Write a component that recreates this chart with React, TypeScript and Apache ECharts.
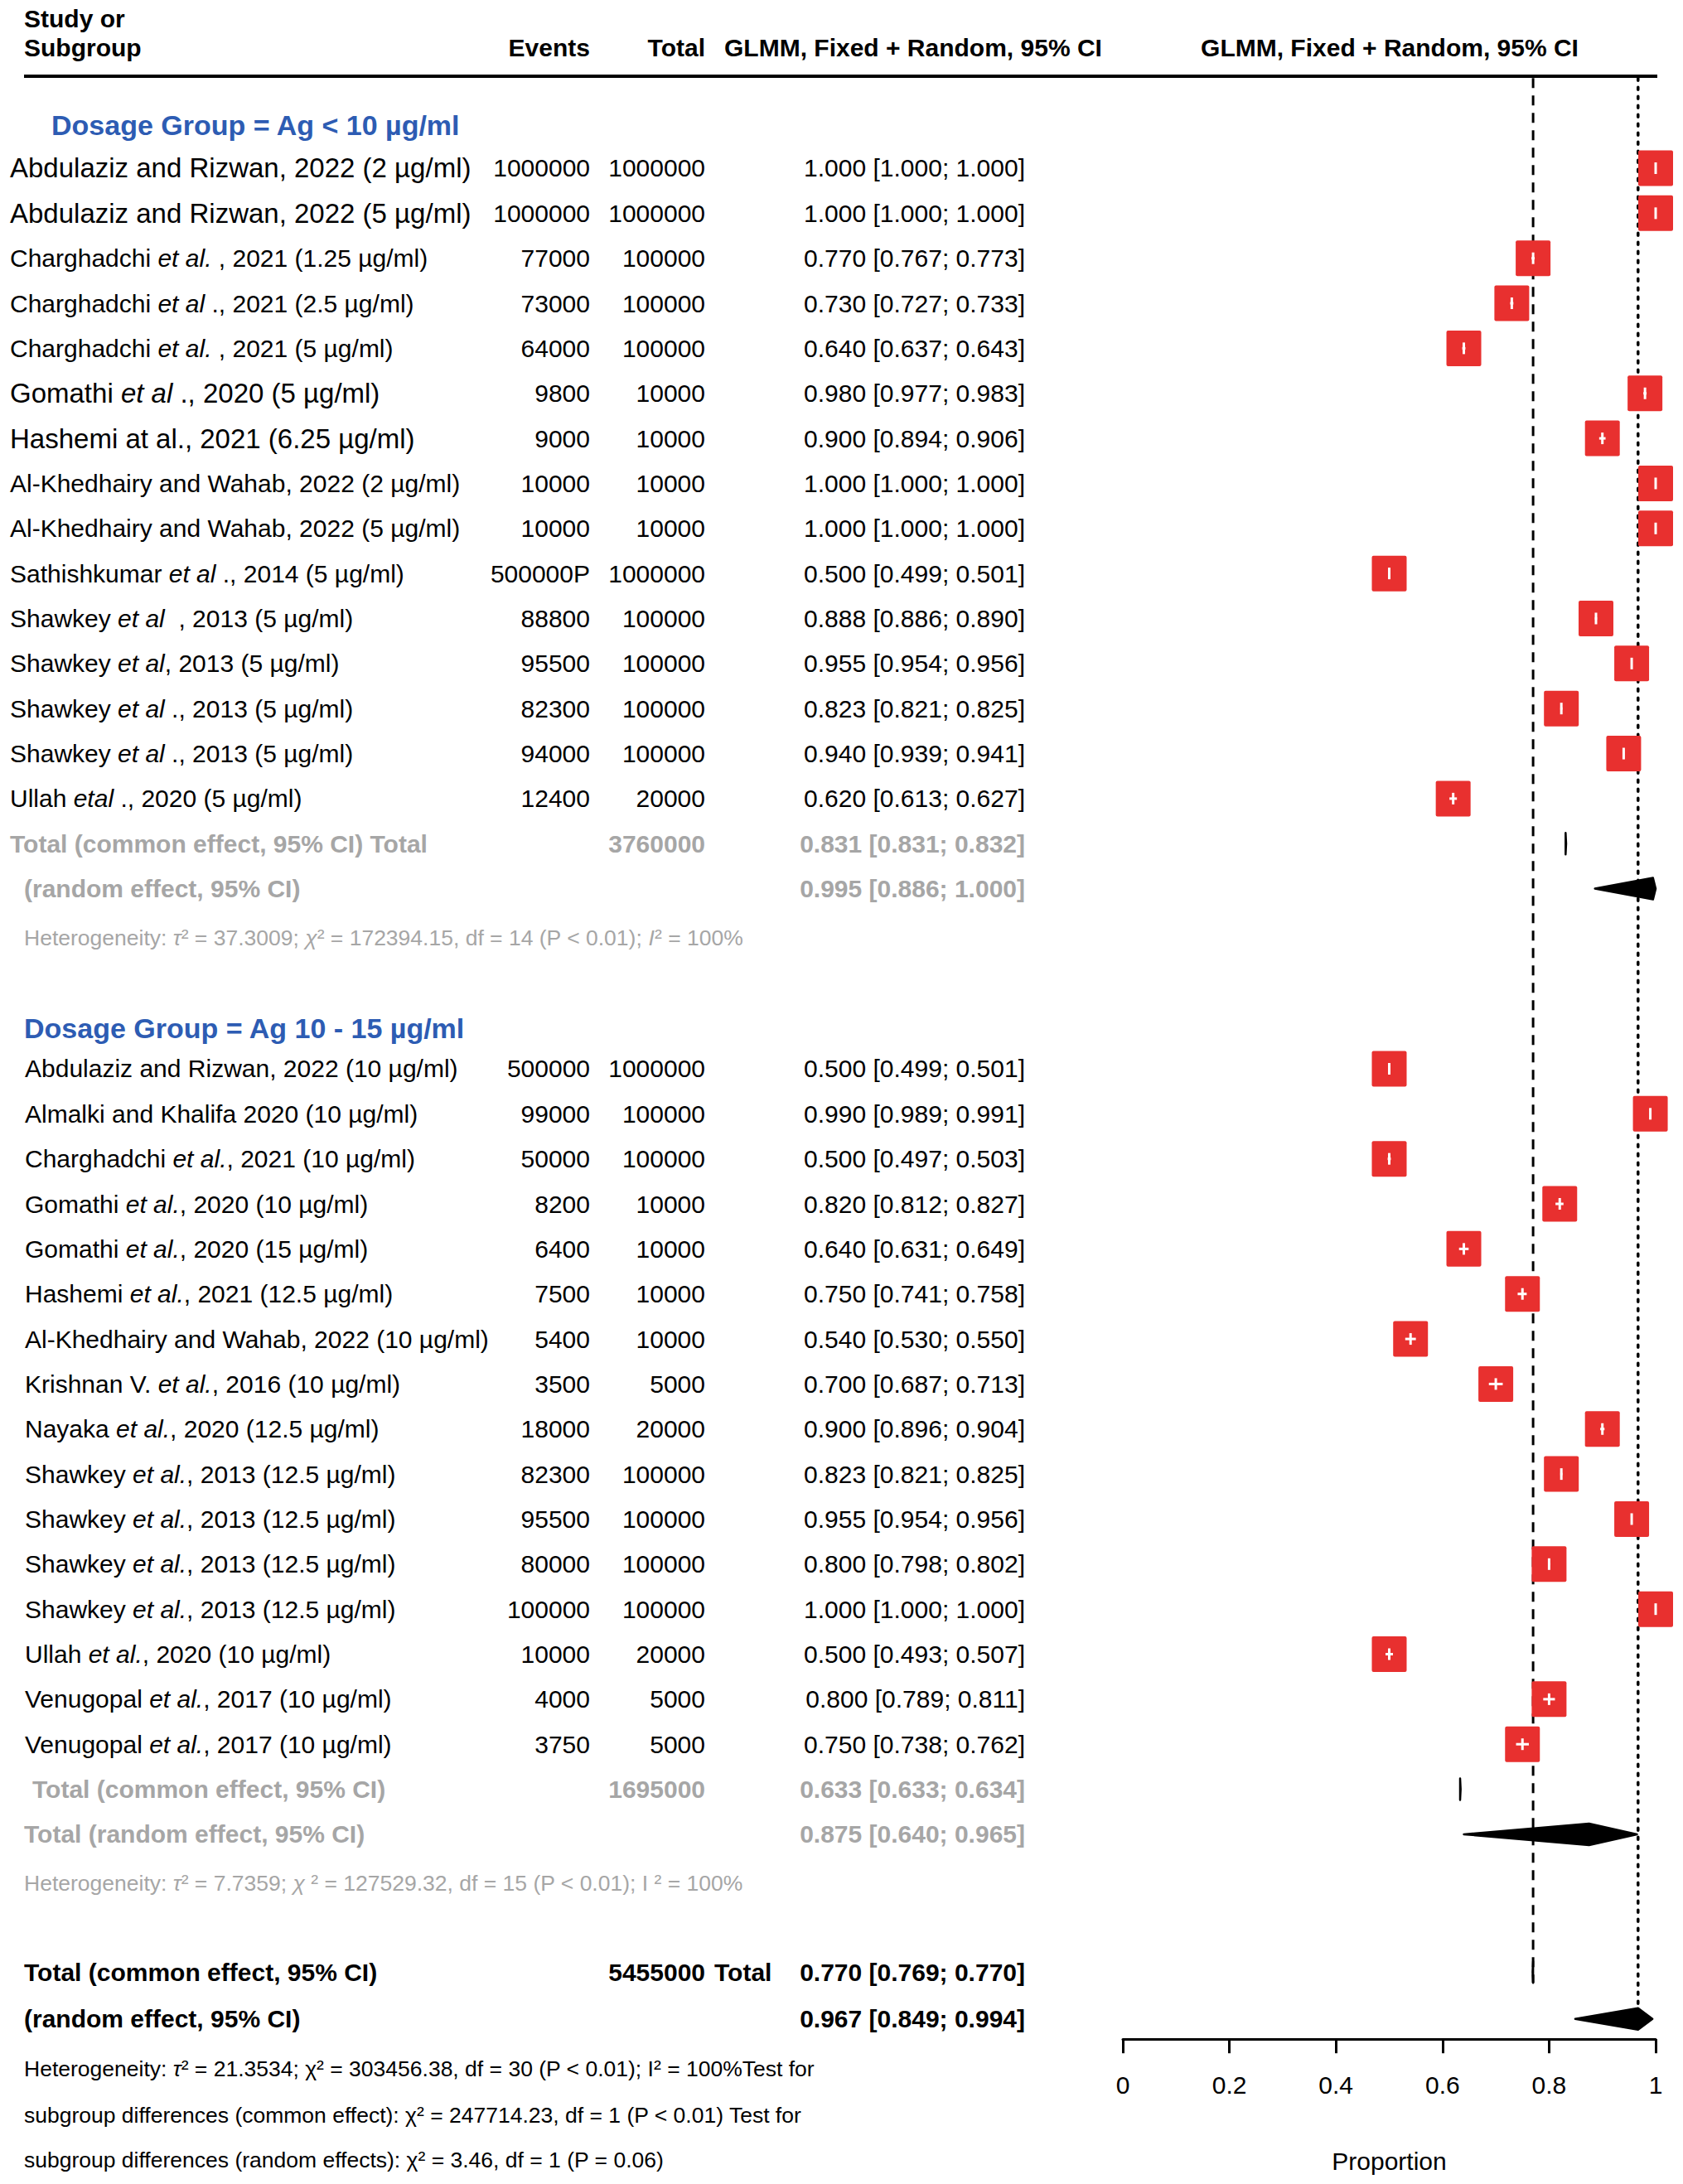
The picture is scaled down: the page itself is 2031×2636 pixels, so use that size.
import React, { useEffect, useRef } from "react";
import * as echarts from "echarts";

const W = 2031;
const H = 2636;
const FONT = "'Liberation Sans', Arial, Helvetica, sans-serif";
const RED = "#e8302f";
const GRAY = "#a6a6a6";
const BLUE = "#2d5cb3";

// ---------- Group 1: Ag < 10 µg/ml ----------
const G1_TITLE = "Dosage Group = Ag < 10 µg/ml";
const G1_LABELS = [
  "Abdulaziz and Rizwan, 2022 (2 µg/ml)",
  "Abdulaziz and Rizwan, 2022 (5 µg/ml)",
  "Charghadchi {i|et al.} , 2021 (1.25 µg/ml)",
  "Charghadchi {i|et al} ., 2021 (2.5 µg/ml)",
  "Charghadchi {i|et al.} , 2021 (5 µg/ml)",
  "Gomathi {i|et al} ., 2020 (5 µg/ml)",
  "Hashemi at al., 2021 (6.25 µg/ml)",
  "Al-Khedhairy and Wahab, 2022 (2 µg/ml)",
  "Al-Khedhairy and Wahab, 2022 (5 µg/ml)",
  "Sathishkumar {i|et al} ., 2014 (5 µg/ml)",
  "Shawkey {i|et al}  , 2013 (5 µg/ml)",
  "Shawkey {i|et al}, 2013 (5 µg/ml)",
  "Shawkey {i|et al} ., 2013 (5 µg/ml)",
  "Shawkey {i|et al} ., 2013 (5 µg/ml)",
  "Ullah {i|etal} ., 2020 (5 µg/ml)",
];
const G1_EVENTS = ["1000000", "1000000", "77000", "73000", "64000", "9800", "9000", "10000", "10000", "500000P", "88800", "95500", "82300", "94000", "12400"];
const G1_TOTALS = ["1000000", "1000000", "100000", "100000", "100000", "10000", "10000", "10000", "10000", "1000000", "100000", "100000", "100000", "100000", "20000"];
const G1_EST = [1.0, 1.0, 0.77, 0.73, 0.64, 0.98, 0.9, 1.0, 1.0, 0.5, 0.888, 0.955, 0.823, 0.94, 0.62];
const G1_LO = [1.0, 1.0, 0.767, 0.727, 0.637, 0.977, 0.894, 1.0, 1.0, 0.499, 0.886, 0.954, 0.821, 0.939, 0.613];
const G1_HI = [1.0, 1.0, 0.773, 0.733, 0.643, 0.983, 0.906, 1.0, 1.0, 0.501, 0.89, 0.956, 0.825, 0.941, 0.627];
const G1_COMMON = { n: "3760000", est: 0.831, lo: 0.831, hi: 0.832 };
const G1_RANDOM = { est: 0.995, lo: 0.886, hi: 1.0 };
const G1_HET = "Heterogeneity: {i|τ}² = 37.3009; {i|χ}² = 172394.15, df = 14 (P < 0.01); {i|I}² = 100%";

// ---------- Group 2: Ag 10 - 15 µg/ml ----------
const G2_TITLE = "Dosage Group = Ag 10 - 15 µg/ml";
const G2_LABELS = [
  "Abdulaziz and Rizwan, 2022 (10 µg/ml)",
  "Almalki and Khalifa 2020 (10 µg/ml)",
  "Charghadchi {i|et al.}, 2021 (10 µg/ml)",
  "Gomathi {i|et al.}, 2020 (10 µg/ml)",
  "Gomathi {i|et al.}, 2020 (15 µg/ml)",
  "Hashemi {i|et al.}, 2021 (12.5 µg/ml)",
  "Al-Khedhairy and Wahab, 2022 (10 µg/ml)",
  "Krishnan V. {i|et al.}, 2016 (10 µg/ml)",
  "Nayaka {i|et al.}, 2020 (12.5 µg/ml)",
  "Shawkey {i|et al.}, 2013 (12.5 µg/ml)",
  "Shawkey {i|et al.}, 2013 (12.5 µg/ml)",
  "Shawkey {i|et al.}, 2013 (12.5 µg/ml)",
  "Shawkey {i|et al.}, 2013 (12.5 µg/ml)",
  "Ullah {i|et al.}, 2020 (10 µg/ml)",
  "Venugopal {i|et al.}, 2017 (10 µg/ml)",
  "Venugopal {i|et al.}, 2017 (10 µg/ml)",
];
const G2_EVENTS = ["500000", "99000", "50000", "8200", "6400", "7500", "5400", "3500", "18000", "82300", "95500", "80000", "100000", "10000", "4000", "3750"];
const G2_TOTALS = ["1000000", "100000", "100000", "10000", "10000", "10000", "10000", "5000", "20000", "100000", "100000", "100000", "100000", "20000", "5000", "5000"];
const G2_EST = [0.5, 0.99, 0.5, 0.82, 0.64, 0.75, 0.54, 0.7, 0.9, 0.823, 0.955, 0.8, 1.0, 0.5, 0.8, 0.75];
const G2_LO = [0.499, 0.989, 0.497, 0.812, 0.631, 0.741, 0.53, 0.687, 0.896, 0.821, 0.954, 0.798, 1.0, 0.493, 0.789, 0.738];
const G2_HI = [0.501, 0.991, 0.503, 0.827, 0.649, 0.758, 0.55, 0.713, 0.904, 0.825, 0.956, 0.802, 1.0, 0.507, 0.811, 0.762];
const G2_COMMON = { n: "1695000", est: 0.633, lo: 0.633, hi: 0.634 };
const G2_RANDOM = { est: 0.875, lo: 0.64, hi: 0.965 };
const G2_HET = "Heterogeneity: {i|τ}² = 7.7359; {i|χ} ² = 127529.32, df = 15 (P < 0.01); I ² = 100%";

// ---------- Overall ----------
const ALL_COMMON = { n: "5455000", est: 0.77, lo: 0.769, hi: 0.77 };
const ALL_RANDOM = { est: 0.967, lo: 0.849, hi: 0.994 };
const ALL_NOTES = [
  "Heterogeneity: {i|τ}² = 21.3534; χ² = 303456.38, df = 30 (P < 0.01); I² = 100%Test for",
  "subgroup differences (common effect): χ² = 247714.23, df = 1 (P < 0.01) Test for",
  "subgroup differences (random effects): χ² = 3.46, df = 1 (P = 0.06)",
];

const X_TICKS_INTERVAL = 0.2;

// row layout (row units)
const G1_HEAD_ROW = -0.95;
const G1_START = 0;
const G2_HEAD_ROW = 19.1;
const G2_START = 20;
// rows of group 1 whose labels are set in a larger type in the original
const G1_LARGE_LABEL_ROWS = [0, 1, 5, 6];

const ci = (e: number, l: number, h: number) => `${e.toFixed(3)} [${l.toFixed(3)}; ${h.toFixed(3)}]`;

export default function App() {
  const ref = useRef<HTMLDivElement>(null);
  useEffect(() => {
    document.body.style.margin = "0";
    const chart = echarts.init(ref.current!, null, { renderer: "svg", width: W, height: H });

    const g1Rows = G1_EST.map((_, i) => G1_START + i);
    const g2Rows = G2_EST.map((_, i) => G2_START + i);
    const g1CommonRow = G1_START + G1_EST.length;
    const g1RandomRow = g1CommonRow + 1;
    const g1HetRow = g1RandomRow + 1.09;
    const g2CommonRow = G2_START + G2_EST.length;
    const g2RandomRow = g2CommonRow + 1;
    const g2HetRow = g2RandomRow + 1.09;
    const allCommonRow = g2RandomRow + 3.06;
    const allRandomRow = allCommonRow + 1.04;
    const noteRows = [allRandomRow + 1.1, allRandomRow + 2.14, allRandomRow + 3.13];

    const studyData = [
      ...G1_EST.map((e, i) => [e, G1_LO[i], G1_HI[i], g1Rows[i]]),
      ...G2_EST.map((e, i) => [e, G2_LO[i], G2_HI[i], g2Rows[i]]),
    ];
    const diamondData = [
      [G1_COMMON.est, G1_COMMON.lo, G1_COMMON.hi, g1CommonRow],
      [G1_RANDOM.est, G1_RANDOM.lo, G1_RANDOM.hi, g1RandomRow],
      [G2_COMMON.est, G2_COMMON.lo, G2_COMMON.hi, g2CommonRow],
      [G2_RANDOM.est, G2_RANDOM.lo, G2_RANDOM.hi, g2RandomRow],
      [ALL_COMMON.est, ALL_COMMON.lo, ALL_COMMON.hi, allCommonRow],
      [ALL_RANDOM.est, ALL_RANDOM.lo, ALL_RANDOM.hi, allRandomRow],
    ];

    chart.setOption({
      animation: false,
      backgroundColor: "#ffffff",
      grid: { left: 1355, width: 643, top: 94.3, height: 2366.9, containLabel: false },
      xAxis: {
        type: "value",
        min: 0,
        max: 1,
        interval: X_TICKS_INTERVAL,
        position: "bottom",
        axisLine: { show: true, onZero: false, lineStyle: { color: "#000", width: 3 } },
        axisTick: { show: true, length: 17, lineStyle: { color: "#000", width: 3 } },
        axisLabel: { fontSize: 30, color: "#000", fontFamily: FONT, margin: 40 },
        splitLine: { show: false },
        name: "Proportion",
        nameLocation: "middle",
        nameGap: 132,
        nameTextStyle: { fontSize: 30, color: "#000", fontFamily: FONT },
      },
      yAxis: { type: "value", min: -2, max: 41.55, inverse: true, show: false },
      series: [
        {
          type: "line",
          data: [[ALL_COMMON.est, -2], [ALL_COMMON.est, allCommonRow + 0.24]],
          symbol: "none",
          lineStyle: { color: "#000", width: 3, type: [12, 9] },
          z: 1,
          silent: true,
        },
        {
          type: "line",
          data: [[ALL_RANDOM.est, -2], [ALL_RANDOM.est, allRandomRow - 0.24]],
          symbol: "none",
          lineStyle: { color: "#000", width: 3.5, type: [3, 8], cap: "round" },
          z: 1,
          silent: true,
        },
        {
          type: "custom",
          coordinateSystem: "cartesian2d",
          clip: false,
          z: 3,
          encode: { x: [0, 1, 2], y: 3 },
          data: studyData,
          renderItem: (_p: any, api: any) => {
            const row = api.value(3);
            const c = api.coord([api.value(0), row]);
            const l = api.coord([api.value(1), row]);
            const h = api.coord([api.value(2), row]);
            const sw = 42;
            const sh = 43;
            return {
              type: "group",
              children: [
                { type: "rect", shape: { x: c[0] - sw / 2, y: c[1] - sh / 2, width: sw, height: sh, r: 2 }, style: { fill: RED } },
                { type: "line", shape: { x1: l[0], y1: c[1], x2: h[0], y2: c[1] }, style: { stroke: "#fff", lineWidth: 3 } },
                { type: "line", shape: { x1: c[0], y1: c[1] - 7, x2: c[0], y2: c[1] + 7 }, style: { stroke: "#fff", lineWidth: 3 } },
              ],
            };
          },
        },
        {
          type: "custom",
          coordinateSystem: "cartesian2d",
          clip: false,
          z: 3,
          encode: { x: [0, 1, 2], y: 3 },
          data: diamondData,
          renderItem: (_p: any, api: any) => {
            const row = api.value(3);
            const c = api.coord([api.value(0), row]);
            const l = api.coord([api.value(1), row]);
            const h = api.coord([api.value(2), row]);
            const hh = 13;
            return {
              type: "polygon",
              shape: { points: [[l[0], c[1]], [c[0], c[1] - hh], [h[0], c[1]], [c[0], c[1] + hh]] },
              style: { fill: "#000", stroke: "#000", lineWidth: 2.5, lineJoin: "round" },
            };
          },
        },
      ],
    });

    const py = (row: number) => chart.convertToPixel({ yAxisIndex: 0 }, row) as number;
    const rich = (size: number, color: string, weight = "normal") => ({
      i: { fontStyle: "italic", fontSize: size, fontFamily: FONT, fill: color, fontWeight: weight },
    });
    const T = (x: number, y: number, text: string, o: any = {}) => {
      const size = o.size ?? 30;
      const color = o.color ?? "#000";
      const weight = o.weight ?? "normal";
      return {
        type: "text",
        x,
        y,
        silent: true,
        style: {
          text,
          fontSize: size,
          fontFamily: FONT,
          fontWeight: weight,
          fill: color,
          align: o.align ?? "left",
          verticalAlign: "middle",
          rich: rich(size, color, weight),
        },
      };
    };

    const EV_X = 712;
    const TOT_X = 851;
    const CI_X = 1237;
    const HET_SIZE = 26.5;
    const graphics: any[] = [];
    // header
    graphics.push(T(29, 22, "Study or", { weight: "bold" }));
    graphics.push(T(29, 57, "Subgroup", { weight: "bold" }));
    graphics.push(T(EV_X, 57, "Events", { weight: "bold", align: "right" }));
    graphics.push(T(TOT_X, 57, "Total", { weight: "bold", align: "right" }));
    graphics.push(T(874, 57, "GLMM, Fixed + Random, 95% CI", { weight: "bold" }));
    graphics.push(T(1677, 57, "GLMM, Fixed + Random, 95% CI", { weight: "bold", align: "center" }));
    graphics.push({ type: "line", silent: true, shape: { x1: 29, y1: 92, x2: 2000, y2: 92 }, style: { stroke: "#000", lineWidth: 4 } });

    // group 1
    graphics.push(T(62, py(G1_HEAD_ROW), G1_TITLE, { weight: "bold", color: BLUE, size: 34 }));
    G1_LABELS.forEach((lab, i) => {
      const y = py(g1Rows[i]);
      graphics.push(T(12, y, lab, { size: G1_LARGE_LABEL_ROWS.includes(i) ? 33 : 30 }));
      graphics.push(T(EV_X, y, G1_EVENTS[i], { align: "right" }));
      graphics.push(T(TOT_X, y, G1_TOTALS[i], { align: "right" }));
      graphics.push(T(CI_X, y, ci(G1_EST[i], G1_LO[i], G1_HI[i]), { align: "right" }));
    });
    graphics.push(T(12, py(g1CommonRow), "Total (common effect, 95% CI) Total", { weight: "bold", color: GRAY }));
    graphics.push(T(TOT_X, py(g1CommonRow), G1_COMMON.n, { weight: "bold", color: GRAY, align: "right" }));
    graphics.push(T(CI_X, py(g1CommonRow), ci(G1_COMMON.est, G1_COMMON.lo, G1_COMMON.hi), { weight: "bold", color: GRAY, align: "right" }));
    graphics.push(T(29, py(g1RandomRow), "(random effect, 95% CI)", { weight: "bold", color: GRAY }));
    graphics.push(T(CI_X, py(g1RandomRow), ci(G1_RANDOM.est, G1_RANDOM.lo, G1_RANDOM.hi), { weight: "bold", color: GRAY, align: "right" }));
    graphics.push(T(29, py(g1HetRow), G1_HET, { size: HET_SIZE, color: GRAY }));

    // group 2
    graphics.push(T(29, py(G2_HEAD_ROW), G2_TITLE, { weight: "bold", color: BLUE, size: 34 }));
    G2_LABELS.forEach((lab, i) => {
      const y = py(g2Rows[i]);
      graphics.push(T(30, y, lab));
      graphics.push(T(EV_X, y, G2_EVENTS[i], { align: "right" }));
      graphics.push(T(TOT_X, y, G2_TOTALS[i], { align: "right" }));
      graphics.push(T(CI_X, y, ci(G2_EST[i], G2_LO[i], G2_HI[i]), { align: "right" }));
    });
    graphics.push(T(39, py(g2CommonRow), "Total (common effect, 95% CI)", { weight: "bold", color: GRAY }));
    graphics.push(T(TOT_X, py(g2CommonRow), G2_COMMON.n, { weight: "bold", color: GRAY, align: "right" }));
    graphics.push(T(CI_X, py(g2CommonRow), ci(G2_COMMON.est, G2_COMMON.lo, G2_COMMON.hi), { weight: "bold", color: GRAY, align: "right" }));
    graphics.push(T(29, py(g2RandomRow), "Total (random effect, 95% CI)", { weight: "bold", color: GRAY }));
    graphics.push(T(CI_X, py(g2RandomRow), ci(G2_RANDOM.est, G2_RANDOM.lo, G2_RANDOM.hi), { weight: "bold", color: GRAY, align: "right" }));
    graphics.push(T(29, py(g2HetRow), G2_HET, { size: HET_SIZE, color: GRAY }));

    // overall
    graphics.push(T(29, py(allCommonRow), "Total (common effect, 95% CI)", { weight: "bold" }));
    graphics.push(T(TOT_X, py(allCommonRow), ALL_COMMON.n, { weight: "bold", align: "right" }));
    graphics.push(T(862, py(allCommonRow), "Total", { weight: "bold" }));
    graphics.push(T(CI_X, py(allCommonRow), ci(ALL_COMMON.est, ALL_COMMON.lo, ALL_COMMON.hi), { weight: "bold", align: "right" }));
    graphics.push(T(29, py(allRandomRow), "(random effect, 95% CI)", { weight: "bold" }));
    graphics.push(T(CI_X, py(allRandomRow), ci(ALL_RANDOM.est, ALL_RANDOM.lo, ALL_RANDOM.hi), { weight: "bold", align: "right" }));
    ALL_NOTES.forEach((n, i) => graphics.push(T(29, py(noteRows[i]), n, { size: HET_SIZE })));

    chart.setOption({ graphic: graphics });
    return () => chart.dispose();
  }, []);
  return <div ref={ref} style={{ position: "absolute", left: 0, top: 0, width: W, height: H }} />;
}
